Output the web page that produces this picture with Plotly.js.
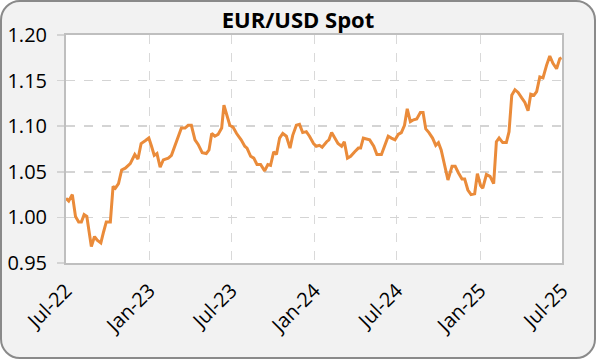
<!DOCTYPE html>
<html>
<head>
<meta charset="utf-8">
<script src="https://cdn.plot.ly/plotly-3.0.1.min.js"></script>
<style>
  html, body { margin: 0; padding: 0; background: #ffffff; }
  #frame {
    position: absolute; left: 0; top: 0;
    width: 592px; height: 355px;
    border: 2px solid #8a8a8a; border-radius: 20px;
    background: #f2f2f2; overflow: hidden;
  }
  #chart { position: absolute; left: -2px; top: -2px; width: 596px; height: 359px; }
</style>
</head>
<body>
<div id="frame"><div id="chart"></div></div>
<script>
// EUR/USD spot
const dates = [
  "2022-07-01","2022-07-07","2022-07-15","2022-07-22","2022-07-29","2022-08-04","2022-08-10","2022-08-16","2022-08-26","2022-09-02",
  "2022-09-08","2022-09-16","2022-09-22","2022-09-28","2022-10-07","2022-10-13","2022-10-18","2022-10-25","2022-11-01","2022-11-09",
  "2022-11-20","2022-11-30","2022-12-07","2022-12-14","2022-12-23","2022-12-31","2023-01-06","2023-01-12","2023-01-18","2023-01-25",
  "2023-02-01","2023-02-12","2023-02-19","2023-03-02","2023-03-13","2023-03-21","2023-03-28","2023-04-04","2023-04-12","2023-04-19",
  "2023-04-28","2023-05-07","2023-05-13","2023-05-19","2023-05-26","2023-06-02","2023-06-10","2023-06-15","2023-06-21","2023-06-28",
  "2023-07-05","2023-07-13","2023-07-23","2023-07-31","2023-08-05","2023-08-13","2023-08-20","2023-08-27","2023-09-04","2023-09-13",
  "2023-09-20","2023-09-26","2023-10-03","2023-10-09","2023-10-16","2023-10-23","2023-10-31","2023-11-08","2023-11-14","2023-11-22",
  "2023-11-29","2023-12-06","2023-12-14","2023-12-21","2023-12-30","2024-01-05","2024-01-12","2024-01-18","2024-01-28","2024-02-02",
  "2024-02-08","2024-02-15","2024-02-22","2024-03-01","2024-03-07","2024-03-14","2024-03-21","2024-03-30","2024-04-07","2024-04-12",
  "2024-04-18","2024-04-25","2024-05-02","2024-05-11","2024-05-18","2024-05-28","2024-06-04","2024-06-12","2024-06-19","2024-06-27",
  "2024-07-04","2024-07-11","2024-07-18","2024-07-24","2024-07-31","2024-08-07","2024-08-14","2024-08-22","2024-08-28","2024-09-03",
  "2024-09-10","2024-09-18","2024-09-25","2024-10-01","2024-10-07","2024-10-14","2024-10-22","2024-10-31","2024-11-07","2024-11-14",
  "2024-11-22","2024-11-28","2024-12-05","2024-12-12","2024-12-20","2024-12-26","2025-01-02","2025-01-07","2025-01-15","2025-01-23",
  "2025-01-31","2025-02-06","2025-02-12","2025-02-20","2025-02-28","2025-03-06","2025-03-12","2025-03-19","2025-03-26","2025-04-03",
  "2025-04-10","2025-04-17","2025-04-23","2025-04-30","2025-05-06","2025-05-13","2025-05-20","2025-05-28","2025-06-04","2025-06-11",
  "2025-06-19","2025-06-26","2025-06-30"
];
const eurusd = [
  1.021,1.018,1.025,1.001,0.995,0.995,1.003,1.001,0.968,0.979,
  0.975,0.972,0.984,0.995,0.995,1.034,1.032,1.037,1.052,1.054,
  1.059,1.069,1.064,1.081,1.084,1.087,1.078,1.068,1.070,1.055,
  1.063,1.065,1.068,1.083,1.098,1.098,1.101,1.101,1.085,1.080,
  1.071,1.070,1.074,1.092,1.089,1.091,1.098,1.123,1.112,1.101,
  1.099,1.092,1.085,1.078,1.076,1.067,1.065,1.058,1.058,1.051,
  1.058,1.057,1.072,1.069,1.087,1.092,1.089,1.076,1.090,1.101,
  1.102,1.093,1.094,1.089,1.081,1.078,1.079,1.077,1.083,1.085,
  1.093,1.087,1.081,1.078,1.083,1.065,1.067,1.072,1.076,1.076,
  1.087,1.086,1.085,1.078,1.069,1.069,1.079,1.089,1.087,1.085,
  1.091,1.093,1.101,1.119,1.105,1.107,1.108,1.115,1.115,1.097,
  1.093,1.087,1.079,1.082,1.074,1.058,1.041,1.056,1.056,1.049,
  1.042,1.042,1.030,1.025,1.026,1.048,1.035,1.032,1.047,1.045,
  1.037,1.083,1.087,1.082,1.082,1.094,1.134,1.140,1.137,1.131,
  1.126,1.117,1.135,1.134,1.138,1.154,1.153,1.167,1.177,1.169,
  1.163,1.174,1.175
];
const titleText = "EUR/USD Spot";
const xTickVals = ["2022-07-01","2023-01-01","2023-07-01","2024-01-01","2024-07-01","2025-01-01","2025-07-01"];
const xTickText = ["Jul-22","Jan-23","Jul-23","Jan-24","Jul-24","Jan-25","Jul-25"];
const yTickVals = [0.95, 1.00, 1.05, 1.10, 1.15, 1.20];
const yTickText = ["0.95","1.00","1.05","1.10","1.15","1.20"];

const trace = {
  x: dates, y: eurusd, type: "scatter", mode: "lines",
  line: { color: "#EA8B3A", width: 3 },
  hoverinfo: "skip"
};
const font = "Open Sans, DejaVu Sans, sans-serif";
const layout = {
  width: 596, height: 359,
  margin: { l: 66, r: 34, t: 35, b: 96 },
  paper_bgcolor: "rgba(0,0,0,0)",
  plot_bgcolor: "#ffffff",
  showlegend: false,
  title: { text: "<b>" + titleText + "</b>", x: 0.5, xanchor: "center", y: 0.944, yanchor: "middle",
           font: { family: font, size: 22, color: "#000000" } },
  xaxis: {
    type: "date", range: ["2022-07-01", "2025-07-01"],
    tickmode: "array", tickvals: xTickVals, ticktext: xTickText,
    tickangle: -45, tickfont: { family: font, size: 20, color: "#000000" },
    showgrid: true, gridcolor: "#d9d9d9", griddash: "dash", gridwidth: 1,
    showline: true, linecolor: "#bfbfbf", linewidth: 2, mirror: true,
    ticks: "", ticklabelstandoff: 6, zeroline: false
  },
  yaxis: {
    range: [0.95, 1.20],
    tickmode: "array", tickvals: yTickVals, ticktext: yTickText,
    tickfont: { family: font, size: 20, color: "#000000" },
    showgrid: true, gridcolor: "#d4d4d4", griddash: "dash", gridwidth: 1.5,
    showline: true, linecolor: "#bfbfbf", linewidth: 2, mirror: true,
    ticks: "outside", ticklen: 7, tickcolor: "#d4d4d4", tickwidth: 1.5,
    ticklabelstandoff: 6, zeroline: false
  }
};
Plotly.newPlot("chart", [trace], layout, { staticPlot: true, displayModeBar: false });
</script>
</body>
</html>
